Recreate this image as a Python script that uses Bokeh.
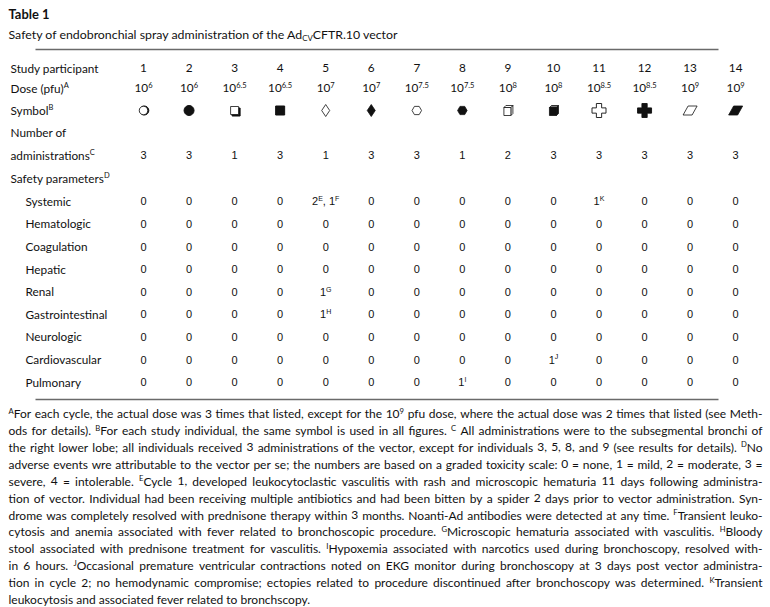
import re
import subprocess
from PIL import ImageFont
from bokeh.plotting import figure
from bokeh.models import ColumnDataSource, Range1d
from bokeh.embed import file_html
from bokeh.resources import INLINE

# ---------------------------------------------------------------- data
table_number = "Table 1"
table_title = "Safety of endobronchial spray administration of the Ad_{CV}CFTR.10 vector"

participants = ["1", "2", "3", "4", "5", "6", "7", "8", "9", "10", "11", "12", "13", "14"]
doses = ["10^{6}", "10^{6}", "10^{6.5}", "10^{6.5}", "10^{7}", "10^{7}", "10^{7.5}",
         "10^{7.5}", "10^{8}", "10^{8}", "10^{8.5}", "10^{8.5}", "10^{9}", "10^{9}"]
symbol_shapes = ["circle", "circle", "square", "square", "diamond", "diamond", "hex",
                 "hex", "cube", "cube", "cross", "cross", "parallelogram", "parallelogram"]
symbol_filled = [False, True, False, True, False, True, False, True,
                 False, True, False, True, False, True]
administrations = ["3", "3", "1", "3", "1", "3", "3", "1", "2", "3", "3", "3", "3", "3"]

header_labels = ["Study participant", "Dose (pfu)^{A}", "Symbol^{B}", "Number of",
                 "administrations^{C}", "Safety parameters^{D}"]
safety_parameters = ["Systemic", "Hematologic", "Coagulation", "Hepatic", "Renal",
                     "Gastrointestinal", "Neurologic", "Cardiovascular", "Pulmonary"]

systemic = ["0", "0", "0", "0", "2^{E}, 1^{F}", "0", "0", "0", "0", "0", "1^{K}", "0", "0", "0"]
hematologic = ["0"] * 14
coagulation = ["0"] * 14
hepatic = ["0"] * 14
renal = ["0", "0", "0", "0", "1^{G}", "0", "0", "0", "0", "0", "0", "0", "0", "0"]
gastrointestinal = ["0", "0", "0", "0", "1^{H}", "0", "0", "0", "0", "0", "0", "0", "0", "0"]
neurologic = ["0"] * 14
cardiovascular = ["0", "0", "0", "0", "0", "0", "0", "0", "0", "1^{J}", "0", "0", "0", "0"]
pulmonary = ["0", "0", "0", "0", "0", "0", "0", "1^{I}", "0", "0", "0", "0", "0", "0"]
safety_values = [systemic, hematologic, coagulation, hepatic, renal,
                 gastrointestinal, neurologic, cardiovascular, pulmonary]

footnote_lines = [
    "^{A}For each cycle, the actual dose was 3 times that listed, except for the 10^{9} pfu dose, where the actual dose was 2 times that listed (see Meth-",
    "ods for details). ^{B}For each study individual, the same symbol is used in all figures. ^{C} All administrations were to the subsegmental bronchi of",
    "the right lower lobe; all individuals received 3 administrations of the vector, except for individuals 3, 5, 8, and 9 (see results for details). ^{D}No",
    "adverse events wre attributable to the vector per se; the numbers are based on a graded toxicity scale: 0 = none, 1 = mild, 2 = moderate, 3 =",
    "severe, 4 = intolerable. ^{E}Cycle 1, developed leukocytoclastic vasculitis with rash and microscopic hematuria 11 days following administra-",
    "tion of vector. Individual had been receiving multiple antibiotics and had been bitten by a spider 2 days prior to vector administration. Syn-",
    "drome was completely resolved with prednisone therapy within 3 months. Noanti-Ad antibodies were detected at any time. ^{F}Transient leuko-",
    "cytosis and anemia associated with fever related to bronchoscopic procedure. ^{G}Microscopic hematuria associated with vasculitis. ^{H}Bloody",
    "stool associated with prednisone treatment for vasculitis. ^{I}Hypoxemia associated with narcotics used during bronchoscopy, resolved with-",
    "in 6 hours. ^{J}Occasional premature ventricular contractions noted on EKG monitor during bronchoscopy at 3 days post vector administra-",
    "tion in cycle 2; no hemodynamic compromise; ectopies related to procedure discontinued after bronchoscopy was determined. ^{K}Transient",
    "leukocytosis and associated fever related to bronchscopy.",
]

# ---------------------------------------------------------------- layout / style
W, H = 770, 607
INK = "#111111"
RULE = "#6a6a6a"
LABEL_FONT = "Lato"
NUM_FONT = "Liberation Sans"
SUP = 0.64
RENDER_SHIFT = 0.37   # observed: text y lands on the cap middle, not the baseline

_fonts = {}


def _load(family, bold):
    key = (family, bold)
    if key not in _fonts:
        f = None
        try:
            pat = family + (":bold" if bold else ":regular")
            path = subprocess.run(["fc-match", "-f", "%{file}", pat], capture_output=True,
                                  text=True, timeout=10).stdout.strip()
            if path:
                f = ImageFont.truetype(path, 200)
        except Exception:
            f = None
        _fonts[key] = f
    return _fonts[key]


def measure(text, family, size, bold=False):
    f = _load(family, bold)
    if f is None:
        return 0.52 * size * len(text)
    return f.getlength(text) * size / 200.0


TOKEN = re.compile(r"(\^\{[^}]*\}|_\{[^}]*\})")


def runs(s):
    out = []
    for part in TOKEN.split(s):
        if not part:
            continue
        if part.startswith("^{"):
            out.append((part[2:-1], "sup"))
        elif part.startswith("_{"):
            out.append((part[2:-1], "sub"))
        else:
            out.append((part, "base"))
    return out


def runs_width(rs, family, size, bold=False):
    return sum(measure(t, family, size * (1 if k == "base" else SUP), bold) for t, k in rs)


T = dict(x=[], y=[], text=[], font=[], size=[], style=[])


def emit(rs, x, base, family, size, bold=False):
    for t, k in rs:
        s = size if k == "base" else size * SUP
        if k == "sup":
            yb = base - size * 0.38
        elif k == "sub":
            yb = base + size * 0.18
        else:
            yb = base
        T["x"].append(x)
        T["y"].append(yb - RENDER_SHIFT * s)
        T["text"].append(t)
        T["font"].append(family)
        T["size"].append("%.2fpx" % s)
        T["style"].append("bold" if bold else "normal")
        x += measure(t, family, s, bold)
    return x


def emit_center(s, cx, base, family, size, bold=False):
    rs = runs(s)
    w = runs_width(rs, family, size, bold)
    emit(rs, cx - w / 2.0, base, family, size, bold)


def fit(s, family, target, bold=False):
    return target / runs_width(runs(s), family, 1.0, bold)


num_size = fit(table_number, LABEL_FONT, 41, True)
title_size = fit(table_title, LABEL_FONT, 389)
label_size = fit("Study participant", LABEL_FONT, 88)
body_size = 11.0

col_first, col_pitch = 143.0, 45.55
col_x = [col_first + col_pitch * i for i in range(len(participants))]
header_y = [68, 88, 110, 132, 155, 178]
body_y0, body_pitch = 201.0, 22.6
body_y = [body_y0 + body_pitch * i for i in range(len(safety_parameters))]


def bl(cy, size):
    return cy + 0.36 * size


p = figure(width=W, height=H, x_range=Range1d(0, W), y_range=Range1d(H, 0),
           output_backend="svg", toolbar_location=None, min_border=0,
           x_axis_location=None, y_axis_location=None)
p.grid.visible = False
p.outline_line_color = None
p.background_fill_color = "white"
p.border_fill_color = "white"

emit(runs(table_number), 8, bl(14, num_size), LABEL_FONT, num_size, True)
emit(runs(table_title), 8, bl(34, title_size), LABEL_FONT, title_size)

rule_x0, rule_x1 = 35, 718
p.segment(x0=[rule_x0, rule_x0], y0=[49, 399], x1=[rule_x1, rule_x1], y1=[49, 399],
          line_color=RULE, line_width=1.4)

for lab, cy in zip(header_labels, header_y):
    emit(runs(lab), 10, bl(cy, label_size), LABEL_FONT, label_size)

for v, cx in zip(participants, col_x):
    emit_center(v, cx, bl(header_y[0], label_size), LABEL_FONT, label_size)
for v, cx in zip(doses, col_x):
    emit_center(v, cx, bl(header_y[1], label_size), LABEL_FONT, label_size)
for v, cx in zip(administrations, col_x):
    emit_center(v, cx, bl(header_y[4], body_size), NUM_FONT, body_size)

for lab, vals, cy in zip(safety_parameters, safety_values, body_y):
    emit(runs(lab), 25, bl(cy, label_size), LABEL_FONT, label_size)
    for v, cx in zip(vals, col_x):
        emit_center(v, cx, bl(cy, body_size), NUM_FONT, body_size)

foot_x0, foot_x1 = 8, 762
nat = []
for line in footnote_lines[:-1]:
    words = line.split(" ")
    nat.append(sum(runs_width(runs(w), LABEL_FONT, 1.0) for w in words)
               + (len(words) - 1) * measure(" ", LABEL_FONT, 1.0))
foot_size = min(12.0, (foot_x1 - foot_x0) / max(nat))
foot_y0, foot_pitch = 414.0, 16.9
for i, line in enumerate(footnote_lines):
    words = line.split(" ")
    wr = [runs(w) for w in words]
    widths = [runs_width(r, LABEL_FONT, foot_size) for r in wr]
    if i == len(footnote_lines) - 1 or len(words) < 2:
        gap = measure(" ", LABEL_FONT, foot_size)
    else:
        gap = (foot_x1 - foot_x0 - sum(widths)) / (len(words) - 1)
    x = foot_x0
    base = foot_y0 + foot_pitch * i + 0.3 * foot_size
    for r, w in zip(wr, widths):
        emit(r, x, base, LABEL_FONT, foot_size)
        x += w + gap

src = ColumnDataSource(T)
p.text(x="x", y="y", text="text", source=src, text_font="font", text_font_size="size",
       text_font_style="style", text_color=INK, text_align="left", text_baseline="alphabetic")

sy = header_y[2]


def pick(shape, filled):
    return [col_x[i] for i in range(len(col_x))
            if symbol_shapes[i] == shape and symbol_filled[i] == filled]


xs = pick("circle", False)
p.scatter([x + 0.8 for x in xs], [sy] * len(xs), marker="circle", size=9,
          fill_color=INK, line_color=INK)
p.scatter(xs, [sy] * len(xs), marker="circle", size=8.5, fill_color="white",
          line_color=INK, line_width=0.8)
xs = pick("circle", True)
p.scatter(xs, [sy] * len(xs), marker="circle", size=10, fill_color=INK, line_color=INK)
xs = pick("square", False)
p.scatter([x + 1.5 for x in xs], [sy + 1.5] * len(xs), marker="square", size=8,
          fill_color=INK, line_color=INK)
p.scatter(xs, [sy] * len(xs), marker="square", size=8, fill_color="white",
          line_color=INK, line_width=0.8)
xs = pick("square", True)
p.scatter(xs, [sy] * len(xs), marker="square", size=9, fill_color=INK, line_color=INK)
for filled in (False, True):
    xs = pick("diamond", filled)
    p.scatter(xs, [sy] * len(xs), marker="diamond", size=12,
              fill_color=INK if filled else "white", line_color=INK, line_width=0.8)
for filled in (False, True):
    xs = pick("hex", filled)
    p.scatter(xs, [sy] * len(xs), marker="hex", size=9.5,
              fill_color=INK if filled else "white", line_color=INK, line_width=0.8)
for filled in (False, True):
    xs = pick("cross", filled)
    p.scatter(xs, [sy] * len(xs), marker="plus", size=14,
              fill_color=INK if filled else "white", line_color=INK, line_width=0.9)
for filled in (False, True):
    xs = pick("cube", filled)
    front_x = [[x - 4, x + 3, x + 3, x - 4] for x in xs]
    front_y = [[sy - 3, sy - 3, sy + 5, sy + 5] for _ in xs]
    top_x = [[x - 4, x - 2, x + 5, x + 3] for x in xs]
    top_y = [[sy - 3, sy - 5, sy - 5, sy - 3] for _ in xs]
    side_x = [[x + 3, x + 5, x + 5, x + 3] for x in xs]
    side_y = [[sy - 3, sy - 5, sy + 3, sy + 5] for _ in xs]
    fc = INK if filled else "white"
    p.patches(side_x, side_y, fill_color=fc, line_color=INK, line_width=0.8)
    p.patches(top_x, top_y, fill_color="#777777" if filled else "white",
              line_color=INK, line_width=0.8)
    p.patches(front_x, front_y, fill_color=fc, line_color=INK, line_width=0.8)
for filled in (False, True):
    xs = pick("parallelogram", filled)
    px = [[x - 7, x + 2, x + 7, x - 2] for x in xs]
    py = [[sy + 4.5, sy + 4.5, sy - 4.5, sy - 4.5] for _ in xs]
    p.patches(px, py, fill_color=INK if filled else "white", line_color=INK,
              line_width=0.8)

open("out.html", "w").write(file_html(p, INLINE))
